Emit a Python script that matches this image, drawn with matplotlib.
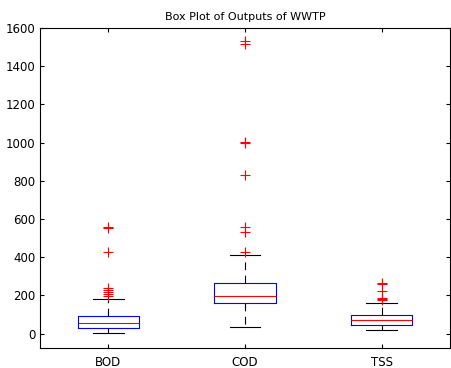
import matplotlib
matplotlib.use("Agg")
import matplotlib.pyplot as plt

labels = ["BOD", "COD", "TSS"]
lower_whisker = [2, 33, 17]
q1 = [29, 162, 47]
median = [54, 198, 74]
q3 = [91, 267, 96]
upper_whisker = [183, 410, 163]
outliers = [
    [197, 208, 218, 228, 237, 425, 552, 556],
    [425, 530, 556, 832, 1000, 1005, 1515, 1530],
    [175, 181, 188, 222, 258, 265],
]

stats = []
for i, lab in enumerate(labels):
    stats.append({
        "label": lab, "whislo": lower_whisker[i], "q1": q1[i], "med": median[i],
        "q3": q3[i], "whishi": upper_whisker[i], "fliers": outliers[i],
    })

fig = plt.figure(figsize=(4.52, 3.68), dpi=100)
ax = fig.add_axes([40 / 452, 20 / 368, 410 / 452, 320 / 368])

ax.bxp(stats, widths=0.45,
       boxprops=dict(color="blue", linewidth=0.8),
       medianprops=dict(color="red", linewidth=0.8),
       whiskerprops=dict(color="black", linewidth=0.8, linestyle=(0, (7, 5))),
       capprops=dict(color="black", linewidth=0.8),
       flierprops=dict(marker="+", markeredgecolor="red", markersize=7, markeredgewidth=0.8))

ax.set_xlim(0.5, 3.5)
ax.set_ylim(-75, 1600)
ax.set_yticks(range(0, 1601, 200))
ax.tick_params(direction="in", top=True, right=True, labelsize=8.5, length=3)
ax.tick_params(axis="x", pad=6)
ax.set_title("Box Plot of Outputs of WWTP", fontsize=8)
for s in ax.spines.values():
    s.set_linewidth(0.8)

fig.savefig("out.png", dpi=100)
